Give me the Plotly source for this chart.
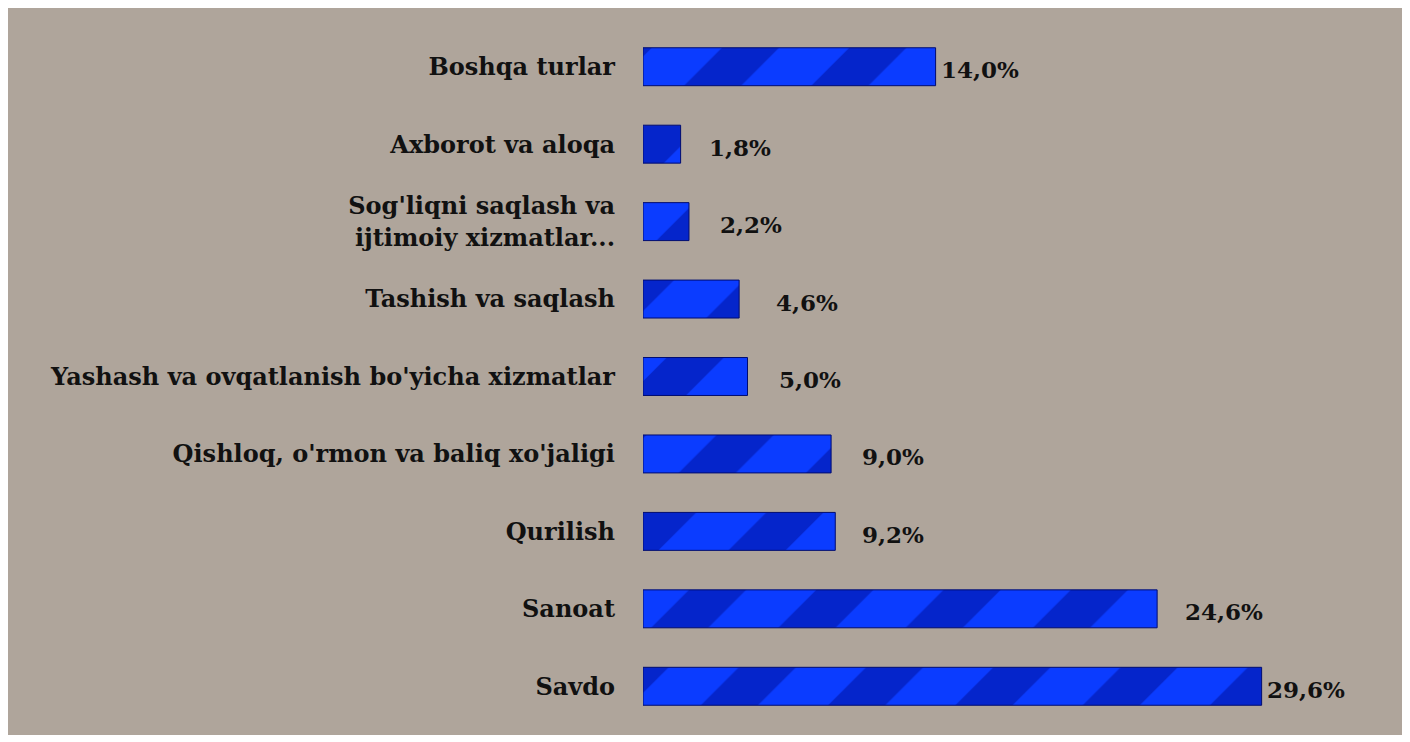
import plotly.graph_objects as go

categories = ["Savdo", "Sanoat", "Qurilish", "Qishloq, o'rmon va baliq xo'jaligi",
              "Yashash va ovqatlanish bo'yicha xizmatlar", "Tashish va saqlash",
              "Sog'liqni saqlash va<br>ijtimoiy xizmatlar...", "Axborot va aloqa",
              "Boshqa turlar"]
values = [29.6, 24.6, 9.2, 9.0, 5.0, 4.6, 2.2, 1.8, 14.0]
value_labels = ["29,6%", "24,6%", "9,2%", "9,0%", "5,0%", "4,6%", "2,2%", "1,8%", "14,0%"]

# style: horizontal gap between bar end and its value label (px)
label_gap = [3, 26, 25, 29, 29, 35, 29, 26, 3]

# page body has an 8px margin: figure is placed at (8, 8)
W, H = 1402, 734
L, R, T, B = 635, 130, 20, 17
pw, ph = W - L - R, H - T - B

BG = "#afa59b"
FONT = dict(family="DejaVu Serif", size=24, color="#111111")

fig = go.Figure()
fig.add_trace(go.Bar(
    y=categories, x=values, orientation="h", width=0.49,
    marker=dict(color="#0a34f0",
                line=dict(color="#000c70", width=1),
                pattern=dict(shape="/", fgcolor="#000e98", bgcolor="#0b3cff",
                             size=90, solidity=0.45, fillmode="overlay")),
    hoverinfo="skip",
))

for c, v, t, g in zip(categories, values, value_labels, label_gap):
    fig.add_annotation(x=v, y=c, text="<b>" + t + "</b>", showarrow=False,
                       xanchor="left", xshift=g, yshift=-3,
                       font=dict(family="DejaVu Serif", size=23, color="#111111"))

# texture area with a white frame
fig.add_shape(type="rect", xref="paper", yref="paper", layer="below",
              x0=(0 - L) / pw, x1=(1396 - L) / pw,
              y0=(H - B - 727) / ph, y1=(H - B - 0) / ph,
              fillcolor=BG, line=dict(width=0))

fig.update_layout(
    width=W, height=H,
    margin=dict(l=L, r=R, t=T, b=B),
    paper_bgcolor="white", plot_bgcolor=BG,
    showlegend=False,
    xaxis=dict(range=[0, pw / 20.9], visible=False, showgrid=False, zeroline=False),
    yaxis=dict(showgrid=False, zeroline=False, showline=False, ticks="",
               tickfont=FONT, ticklabelstandoff=27,
               tickprefix="<b>", ticksuffix="</b>",
               categoryorder="array", categoryarray=categories),
    font=FONT,
)

fig.write_html("out.html")
